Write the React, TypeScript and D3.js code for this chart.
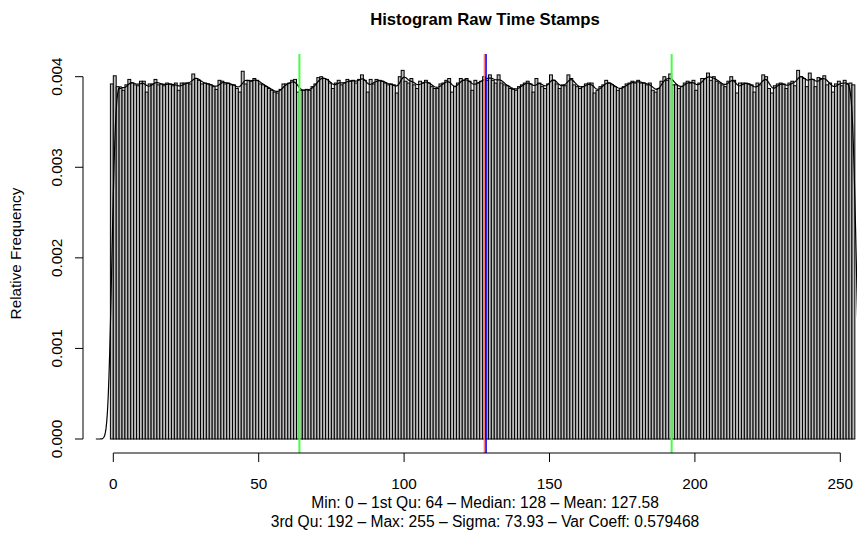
import React, { useEffect, useRef } from 'react';
import * as d3 from 'd3';

// relative frequency of each time stamp value 0..255
const freqs = [
  0.00392, 0.00401, 0.00389, 0.00387, 0.00385, 0.00391, 0.00397, 0.00393, 0.00391, 0.00390,
  0.00395, 0.00395, 0.00383, 0.00392, 0.00392, 0.00397, 0.00391, 0.00392, 0.00390, 0.00393,
  0.00392, 0.00390, 0.00393, 0.00385, 0.00393, 0.00393, 0.00393, 0.00392, 0.00403, 0.00398,
  0.00396, 0.00392, 0.00393, 0.00392, 0.00391, 0.00389, 0.00386, 0.00396, 0.00395, 0.00392,
  0.00393, 0.00391, 0.00391, 0.00387, 0.00383, 0.00406, 0.00392, 0.00396, 0.00395, 0.00398,
  0.00396, 0.00392, 0.00391, 0.00389, 0.00387, 0.00385, 0.00383, 0.00382, 0.00386, 0.00392,
  0.00392, 0.00393, 0.00396, 0.00397, 0.00383, 0.00385, 0.00385, 0.00386, 0.00385, 0.00389,
  0.00392, 0.00399, 0.00400, 0.00398, 0.00397, 0.00393, 0.00387, 0.00393, 0.00396, 0.00391,
  0.00393, 0.00397, 0.00395, 0.00396, 0.00393, 0.00397, 0.00402, 0.00396, 0.00383, 0.00397,
  0.00392, 0.00397, 0.00396, 0.00395, 0.00393, 0.00391, 0.00392, 0.00391, 0.00382, 0.00400,
  0.00407, 0.00395, 0.00393, 0.00398, 0.00391, 0.00387, 0.00395, 0.00393, 0.00396, 0.00393,
  0.00389, 0.00387, 0.00387, 0.00392, 0.00393, 0.00396, 0.00398, 0.00383, 0.00389, 0.00393,
  0.00398, 0.00396, 0.00398, 0.00395, 0.00385, 0.00396, 0.00393, 0.00395, 0.00400, 0.00396,
  0.00402, 0.00396, 0.00393, 0.00402, 0.00393, 0.00391, 0.00390, 0.00387, 0.00386, 0.00385,
  0.00389, 0.00391, 0.00393, 0.00395, 0.00392, 0.00383, 0.00398, 0.00393, 0.00389, 0.00387,
  0.00392, 0.00402, 0.00396, 0.00392, 0.00387, 0.00391, 0.00390, 0.00402, 0.00398, 0.00391,
  0.00389, 0.00387, 0.00389, 0.00392, 0.00393, 0.00393, 0.00382, 0.00385, 0.00389, 0.00391,
  0.00396, 0.00393, 0.00391, 0.00389, 0.00385, 0.00387, 0.00389, 0.00392, 0.00393, 0.00395,
  0.00393, 0.00396, 0.00393, 0.00393, 0.00391, 0.00393, 0.00385, 0.00383, 0.00387, 0.00395,
  0.00400, 0.00396, 0.00403, 0.00391, 0.00391, 0.00387, 0.00389, 0.00393, 0.00395, 0.00393,
  0.00396, 0.00385, 0.00393, 0.00398, 0.00398, 0.00404, 0.00396, 0.00400, 0.00395, 0.00393,
  0.00391, 0.00389, 0.00395, 0.00400, 0.00396, 0.00382, 0.00393, 0.00393, 0.00393, 0.00392,
  0.00391, 0.00383, 0.00393, 0.00391, 0.00402, 0.00400, 0.00387, 0.00382, 0.00390, 0.00392,
  0.00393, 0.00392, 0.00387, 0.00393, 0.00395, 0.00390, 0.00407, 0.00400, 0.00398, 0.00389,
  0.00404, 0.00397, 0.00389, 0.00399, 0.00398, 0.00401, 0.00391, 0.00393, 0.00383, 0.00392,
  0.00395, 0.00390, 0.00396, 0.00392, 0.00393, 0.00391
];

const xTicks = [0, 50, 100, 150, 200, 250];
const yTicks = [0, 0.001, 0.002, 0.003, 0.004];

// summary values shown as vertical lines
const quartiles = [64, 192];
const median = 128;
const mean = 127.58;

const title = 'Histogram Raw Time Stamps';
const yLabel = 'Relative Frequency';
const subLines = [
  'Min: 0 \u2013 1st Qu: 64 \u2013 Median: 128 \u2013 Mean: 127.58',
  '3rd Qu: 192 \u2013 Max: 255 \u2013 Sigma: 73.93 \u2013 Var Coeff: 0.579468'
];

const W = 857, H = 534;
const plot = { left: 83, right: 887, top: 54, bottom: 453 };
const font = '"Liberation Sans", Arial, sans-serif';
const fs = 15.3;

function App() {
  const ref = useRef(null);

  useEffect(() => {
    const svg = d3.select(ref.current);
    svg.selectAll('*').remove();

    const x = d3.scaleLinear().domain([0, 250]).range([113.3, 840.3]);
    const y = d3.scaleLinear().domain([0, 0.004]).range([439, 76.7]);

    svg.append('defs').append('clipPath').attr('id', 'plotclip')
      .append('rect')
      .attr('x', plot.left).attr('y', plot.top)
      .attr('width', plot.right - plot.left).attr('height', plot.bottom - plot.top);

    const g = svg.append('g').attr('clip-path', 'url(#plotclip)');

    // bars: value k covers (k-1, k]
    g.selectAll('rect.bar')
      .data(freqs)
      .join('rect')
      .attr('class', 'bar')
      .attr('x', (d, i) => x(i - 1))
      .attr('width', (d, i) => x(i) - x(i - 1))
      .attr('y', d => y(d))
      .attr('height', d => y(0) - y(d))
      .attr('fill', '#bebebe')
      .attr('stroke', '#000')
      .attr('stroke-width', 1);

    // kernel density of the values (gaussian, bw ~ 1.1)
    const bw = 1.1;
    const pts = d3.range(-6, 262, 0.25).map(t => {
      let s = 0;
      freqs.forEach((f, k) => {
        const u = (t - k) / bw;
        s += f * Math.exp(-0.5 * u * u);
      });
      return [t, s / (bw * Math.sqrt(2 * Math.PI))];
    });
    g.append('path')
      .datum(pts)
      .attr('fill', 'none')
      .attr('stroke', '#000')
      .attr('stroke-width', 1.2)
      .attr('d', d3.line().x(d => x(d[0])).y(d => y(d[1])));

    // quartiles, mean, median
    const vline = (xp, col, w) => g.append('line')
      .attr('x1', xp).attr('x2', xp)
      .attr('y1', plot.top).attr('y2', plot.bottom)
      .attr('stroke', col).attr('stroke-width', w);
    quartiles.forEach(q => vline(x(q), '#44ff44', 2));
    vline(x(mean), '#ff7070', 1.2);
    vline(x(median) + 0.5, '#0000ff', 1.6);

    // x axis
    const ax = svg.append('g').attr('stroke', '#000').attr('fill', 'none');
    ax.append('line')
      .attr('x1', x(xTicks[0])).attr('x2', x(xTicks[xTicks.length - 1]))
      .attr('y1', plot.bottom).attr('y2', plot.bottom);
    xTicks.forEach(t => {
      ax.append('line').attr('x1', x(t)).attr('x2', x(t))
        .attr('y1', plot.bottom).attr('y2', plot.bottom + 9);
    });
    svg.selectAll('text.xt')
      .data(xTicks)
      .join('text')
      .attr('class', 'xt')
      .attr('x', d => x(d)).attr('y', 488.5)
      .attr('text-anchor', 'middle')
      .attr('font-family', font).attr('font-size', fs)
      .text(d => d);

    // y axis
    ax.append('line')
      .attr('x1', plot.left).attr('x2', plot.left)
      .attr('y1', y(yTicks[0])).attr('y2', y(yTicks[yTicks.length - 1]));
    yTicks.forEach(t => {
      ax.append('line').attr('x1', plot.left - 8).attr('x2', plot.left)
        .attr('y1', y(t)).attr('y2', y(t));
    });
    svg.selectAll('text.yt')
      .data(yTicks)
      .join('text')
      .attr('class', 'yt')
      .attr('transform', d => `translate(62, ${y(d)}) rotate(-90)`)
      .attr('text-anchor', 'middle')
      .attr('font-family', font).attr('font-size', fs)
      .text(d => d3.format('.3f')(d));

    // labels
    svg.append('text')
      .attr('transform', `translate(21, ${(plot.top + plot.bottom) / 2}) rotate(-90)`)
      .attr('text-anchor', 'middle')
      .attr('font-family', font).attr('font-size', fs)
      .text(yLabel);

    svg.append('text')
      .attr('x', (plot.left + plot.right) / 2).attr('y', 25)
      .attr('text-anchor', 'middle')
      .attr('font-family', font).attr('font-size', 16.7).attr('font-weight', 'bold')
      .text(title);

    svg.selectAll('text.sub')
      .data(subLines)
      .join('text')
      .attr('class', 'sub')
      .attr('x', (plot.left + plot.right) / 2)
      .attr('y', (d, i) => 508 + i * 19)
      .attr('text-anchor', 'middle')
      .attr('font-family', font).attr('font-size', 15.6)
      .text(d => d);
  }, []);

  return (
    <svg ref={ref} width={W} height={H}
      style={{ position: 'absolute', left: 0, top: 0, background: '#fff' }} />
  );
}

export default App;
